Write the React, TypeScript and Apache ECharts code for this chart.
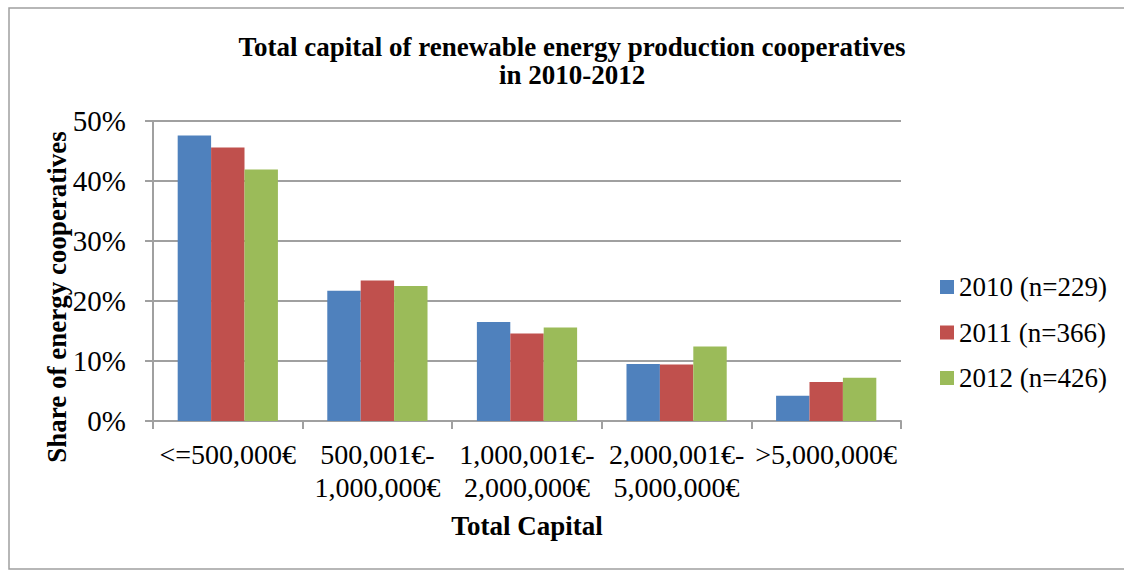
import React, { useEffect, useRef } from "react";
import * as echarts from "echarts";

const categories = [
  "<=500,000€",
  "500,001€-\n1,000,000€",
  "1,000,001€-\n2,000,000€",
  "2,000,001€-\n5,000,000€",
  ">5,000,000€",
];
const seriesNames = ["2010 (n=229)", "2011 (n=366)", "2012 (n=426)"];
const values2010 = [47.6, 21.7, 16.5, 9.5, 4.2];
const values2011 = [45.6, 23.4, 14.6, 9.4, 6.5];
const values2012 = [41.9, 22.5, 15.6, 12.4, 7.2];
const colors = ["#4F81BD", "#C0504D", "#9BBB59"];

const FONT = "Liberation Serif";
const GREY = "#a0a0a0";

export default function App() {
  const ref = useRef<HTMLDivElement>(null);
  useEffect(() => {
    if (!ref.current) return;
    const chart = echarts.init(ref.current, null, { renderer: "svg" });
    const data = [values2010, values2011, values2012];
    chart.setOption({
      animation: false,
      backgroundColor: "#ffffff",
      title: {
        text: "Total capital of renewable energy production cooperatives\nin 2010-2012",
        left: 572,
        top: 33,
        padding: 0,
        textAlign: "center",
        textStyle: {
          fontFamily: FONT,
          fontSize: 27,
          fontWeight: "bold",
          lineHeight: 28,
          color: "#000",
        },
      },
      legend: {
        orient: "vertical",
        left: 940,
        top: 273,
        padding: 0,
        icon: "rect",
        itemWidth: 14,
        itemHeight: 14,
        itemGap: 17.5,
        itemTextGap: 6,
        itemStyle: { borderWidth: 0 },
        textStyle: { fontFamily: FONT, fontSize: 27, color: "#000", lineHeight: 28 },
        data: seriesNames,
      },
      grid: { left: 153, right: 223, top: 121, bottom: 150, containLabel: false },
      xAxis: {
        type: "category",
        data: categories,
        boundaryGap: true,
        axisLine: { show: true, lineStyle: { color: GREY, width: 2 } },
        axisTick: { show: true, alignWithLabel: false, length: 8, lineStyle: { color: GREY, width: 2 } },
        axisLabel: {
          interval: 0,
          margin: 17,
          fontFamily: FONT,
          fontSize: 28,
          lineHeight: 33,
          color: "#000",
        },
      },
      yAxis: {
        type: "value",
        min: 0,
        max: 50,
        interval: 10,
        axisLine: { show: true, lineStyle: { color: GREY, width: 2 } },
        axisTick: { show: true, length: 8, lineStyle: { color: GREY, width: 2 } },
        splitLine: { show: true, lineStyle: { color: GREY, width: 2 } },
        axisLabel: {
          margin: 27,
          fontFamily: FONT,
          fontSize: 29,
          color: "#000",
          formatter: "{value}%",
        },
      },
      series: seriesNames.map((name, i) => ({
        name,
        type: "bar",
        data: data[i],
        barGap: "0%",
        barCategoryGap: "33%",
        itemStyle: { color: colors[i] },
      })),
      graphic: [
        {
          type: "rect",
          shape: { x: 9, y: 8, width: 1200, height: 561 },
          style: { fill: "none", stroke: GREY, lineWidth: 1.5 },
          silent: true,
        },
        {
          type: "text",
          x: 57,
          y: 297,
          rotation: Math.PI / 2,
          style: {
            text: "Share of energy cooperatives",
            fontFamily: FONT,
            fontSize: 27,
            fontWeight: "bold",
            fill: "#000",
            textAlign: "center",
            textVerticalAlign: "middle",
          },
        },
        {
          type: "text",
          x: 527,
          y: 526,
          style: {
            text: "Total Capital",
            fontFamily: FONT,
            fontSize: 27,
            fontWeight: "bold",
            fill: "#000",
            textAlign: "center",
            textVerticalAlign: "middle",
          },
        },
      ],
    });
    return () => chart.dispose();
  }, []);
  return (
    <div
      ref={ref}
      style={{ position: "absolute", left: 0, top: 0, width: 1124, height: 571 }}
    />
  );
}
